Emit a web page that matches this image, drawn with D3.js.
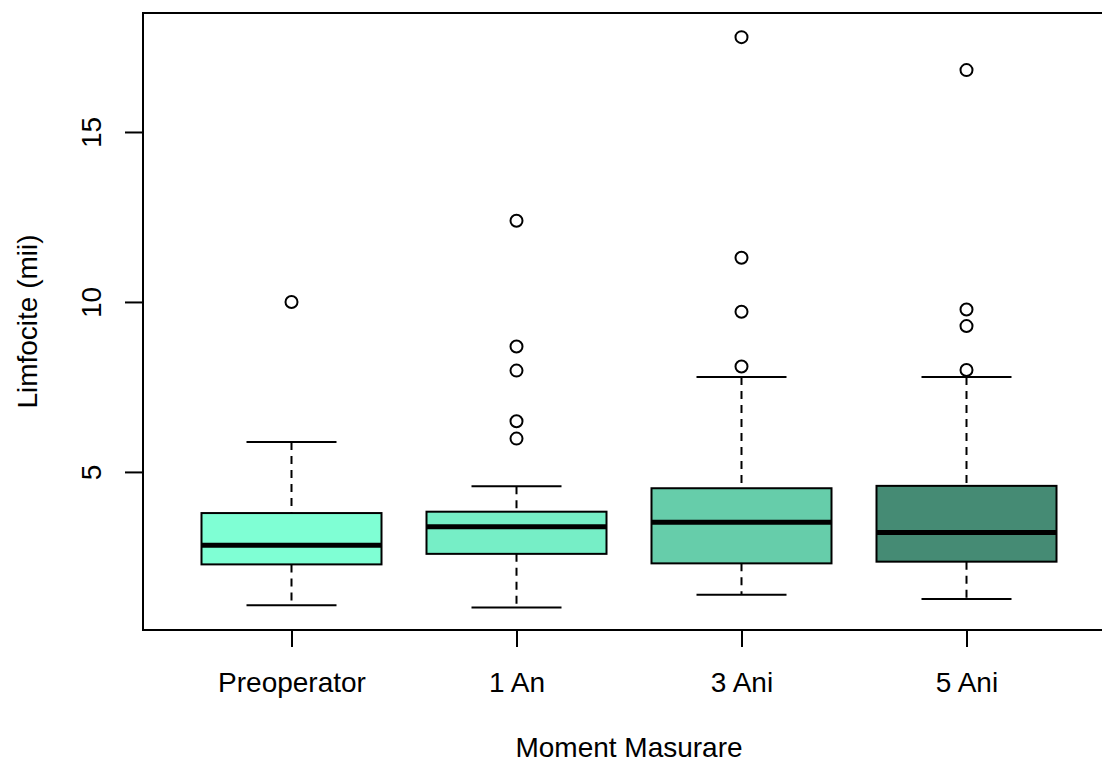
<!DOCTYPE html>
<html>
<head>
<meta charset="utf-8">
<script src="https://cdn.jsdelivr.net/npm/d3@7"></script>
<style>
  body { margin: 0; background: #fff; }
  text { font-family: "Liberation Sans", Arial, sans-serif; fill: #000; }
</style>
</head>
<body>
<svg id="chart" width="1102" height="762"></svg>
<script>
var categories = ["Preoperator", "1 An", "3 Ani", "5 Ani"],
    boxColors = ["#7FFFD4", "#76EEC6", "#66CDAA", "#458B74"],
    whiskerLow = [1.08, 1.01, 1.39, 1.26],
    q1 = [2.28, 2.59, 2.31, 2.36],
    median = [2.84, 3.39, 3.52, 3.22],
    q3 = [3.79, 3.83, 4.52, 4.59],
    whiskerHigh = [5.88, 4.58, 7.79, 7.79],
    outliers = [
        [10.0],
        [5.98, 6.49, 7.98, 8.69, 12.39],
        [8.10, 9.71, 11.30, 17.79],
        [8.0, 9.29, 9.78, 16.82]
    ],
    yTicks = [5, 10, 15];

var svg = d3.select("#chart");

var plotLeft = 143, plotTop = 13, plotBottom = 630, plotRight = 1115,
    fontSize = "28px";

// R style: xlim 0.5..4.5 extended by 4%
let x = d3.scaleLinear()
    .domain([0.34, 4.66])
    .range([plotLeft, plotRight]);

let y = d3.scaleLinear()
    .domain([0.35, 18.5])
    .range([plotBottom, plotTop]);

let boxes = categories.map(function(c, i) {
    return {
        name: c, pos: i + 1, color: boxColors[i],
        lo: whiskerLow[i], q1: q1[i], med: median[i], q3: q3[i], hi: whiskerHigh[i],
        out: outliers[i]
    };
});

let g = svg.selectAll("g.box")
    .data(boxes)
    .enter().append("g")
    .attr("class", "box");

// dashed whiskers
g.append("line")
    .attr("x1", function(d) { return x(d.pos); })
    .attr("x2", function(d) { return x(d.pos); })
    .attr("y1", function(d) { return y(d.hi); })
    .attr("y2", function(d) { return y(d.q3); })
    .attr("stroke", "#000").attr("stroke-width", 2)
    .attr("stroke-dasharray", "8,6");

g.append("line")
    .attr("x1", function(d) { return x(d.pos); })
    .attr("x2", function(d) { return x(d.pos); })
    .attr("y1", function(d) { return y(d.q1); })
    .attr("y2", function(d) { return y(d.lo); })
    .attr("stroke", "#000").attr("stroke-width", 2)
    .attr("stroke-dasharray", "8,6");

// staples
["hi", "lo"].forEach(function(k) {
    g.append("line")
        .attr("x1", function(d) { return x(d.pos - 0.2); })
        .attr("x2", function(d) { return x(d.pos + 0.2); })
        .attr("y1", function(d) { return y(d[k]); })
        .attr("y2", function(d) { return y(d[k]); })
        .attr("stroke", "#000").attr("stroke-width", 2);
});

// boxes
g.append("rect")
    .attr("x", function(d) { return x(d.pos - 0.4); })
    .attr("width", function(d) { return x(d.pos + 0.4) - x(d.pos - 0.4); })
    .attr("y", function(d) { return y(d.q3); })
    .attr("height", function(d) { return y(d.q1) - y(d.q3); })
    .attr("fill", function(d) { return d.color; })
    .attr("stroke", "#000").attr("stroke-width", 2);

// medians
g.append("line")
    .attr("x1", function(d) { return x(d.pos - 0.4); })
    .attr("x2", function(d) { return x(d.pos + 0.4); })
    .attr("y1", function(d) { return y(d.med); })
    .attr("y2", function(d) { return y(d.med); })
    .attr("stroke", "#000").attr("stroke-width", 5);

// outliers
g.selectAll("circle")
    .data(function(d) { return d.out.map(function(v) { return { pos: d.pos, v: v }; }); })
    .enter().append("circle")
    .attr("cx", function(d) { return x(d.pos); })
    .attr("cy", function(d) { return y(d.v); })
    .attr("r", 6)
    .attr("fill", "none")
    .attr("stroke", "#000").attr("stroke-width", 2);

// plot frame
svg.append("rect")
    .attr("x", plotLeft).attr("y", plotTop)
    .attr("width", plotRight - plotLeft).attr("height", plotBottom - plotTop)
    .attr("fill", "none")
    .attr("stroke", "#000").attr("stroke-width", 2);

// y axis
let yAxis = svg.append("g")
    .attr("transform", "translate(" + plotLeft + ",0)")
    .call(d3.axisLeft(y).tickValues(yTicks).tickSize(18).tickFormat(d3.format("d")));
yAxis.select(".domain").remove();
yAxis.selectAll(".tick line").attr("stroke-width", 2);
yAxis.selectAll(".tick text")
    .attr("x", null).attr("dy", null)
    .attr("transform", "translate(-42,0) rotate(-90)")
    .attr("text-anchor", "middle")
    .style("font-size", fontSize)
    .style("font-family", "Liberation Sans, Arial, sans-serif");

// x axis
let xAxis = svg.append("g")
    .attr("transform", "translate(0," + plotBottom + ")")
    .call(d3.axisBottom(x).tickValues([1, 2, 3, 4]).tickSize(17)
        .tickFormat(function(d) { return categories[d - 1]; }));
xAxis.select(".domain").remove();
xAxis.selectAll(".tick line").attr("stroke-width", 2);
xAxis.selectAll(".tick text")
    .attr("y", 62).attr("dy", null)
    .style("font-size", fontSize)
    .style("font-family", "Liberation Sans, Arial, sans-serif");

// titles
svg.append("text")
    .attr("x", x(2.5))
    .attr("y", 757)
    .attr("text-anchor", "middle")
    .style("font-size", fontSize)
    .text("Moment Masurare");

svg.append("text")
    .attr("transform", "translate(37," + ((plotTop + plotBottom) / 2) + ") rotate(-90)")
    .attr("text-anchor", "middle")
    .style("font-size", fontSize)
    .text("Limfocite (mii)");
</script>
</body>
</html>
